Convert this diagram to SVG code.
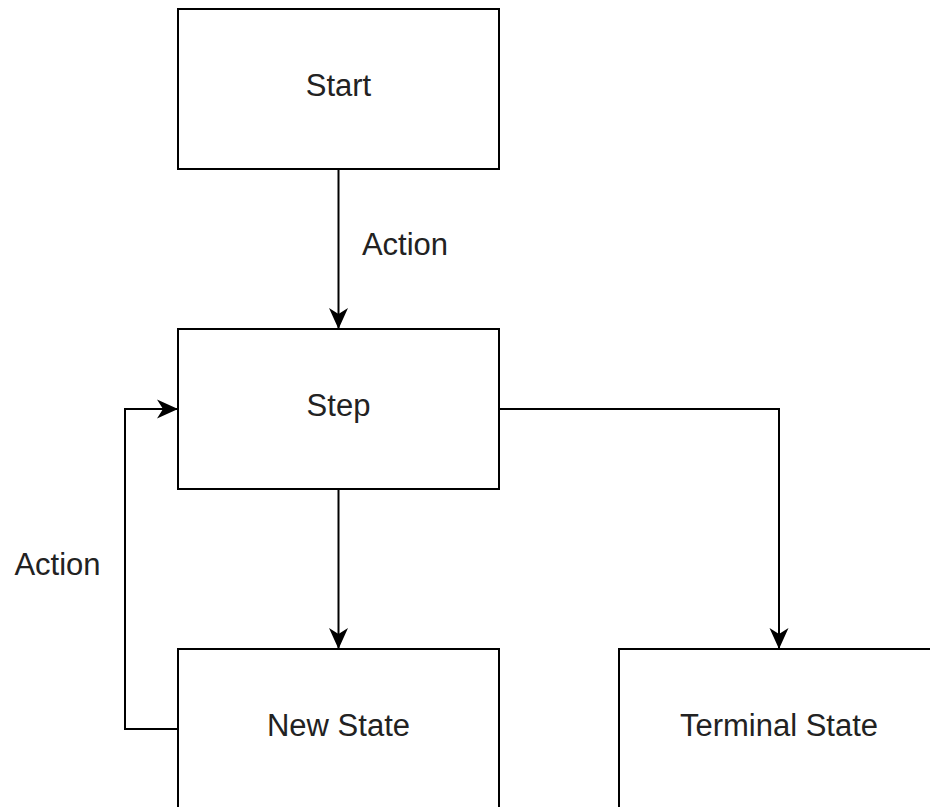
<svg xmlns="http://www.w3.org/2000/svg" width="930" height="807" viewBox="0 0 930 807">
<style>
.box{fill:#fff;stroke:#000;stroke-width:2}
.lbl{font-family:"Liberation Sans",Arial,sans-serif;font-size:31px;fill:#222;text-anchor:middle}
.edge{fill:none;stroke:#000;stroke-width:2}
</style>
<defs>
<marker id="arr" markerUnits="userSpaceOnUse" markerWidth="24" markerHeight="24" viewBox="-22 -12 24 24" refX="0" refY="0" orient="auto">
<path d="M0,0 L-21,-9.5 L-15,0 L-21,9.5 Z" fill="#000"/>
</marker>
</defs>
<rect width="930" height="807" fill="#fff"/>
<g id="edges">
<path class="edge" d="M338.5,169 V329" marker-end="url(#arr)"/>
<path class="edge" d="M338.5,489 V649" marker-end="url(#arr)"/>
<path class="edge" d="M499,409 H779 V649" marker-end="url(#arr)"/>
<path class="edge" d="M178,729 H125 V409 H178" marker-end="url(#arr)"/>
<text class="lbl" x="405" y="255">Action</text>
<text class="lbl" x="57.5" y="575">Action</text>
</g>
<g id="start">
<rect class="box" x="178" y="9" width="321" height="160"/>
<text class="lbl" x="338.5" y="96">Start</text>
</g>
<g id="step">
<rect class="box" x="178" y="329" width="321" height="160"/>
<text class="lbl" x="338.5" y="416">Step</text>
</g>
<g id="newstate">
<rect class="box" x="178" y="649" width="321" height="160"/>
<text class="lbl" x="338.5" y="736">New State</text>
</g>
<g id="terminal">
<rect class="box" x="619" y="649" width="321" height="160"/>
<text class="lbl" x="779" y="736">Terminal State</text>
</g>
</svg>
